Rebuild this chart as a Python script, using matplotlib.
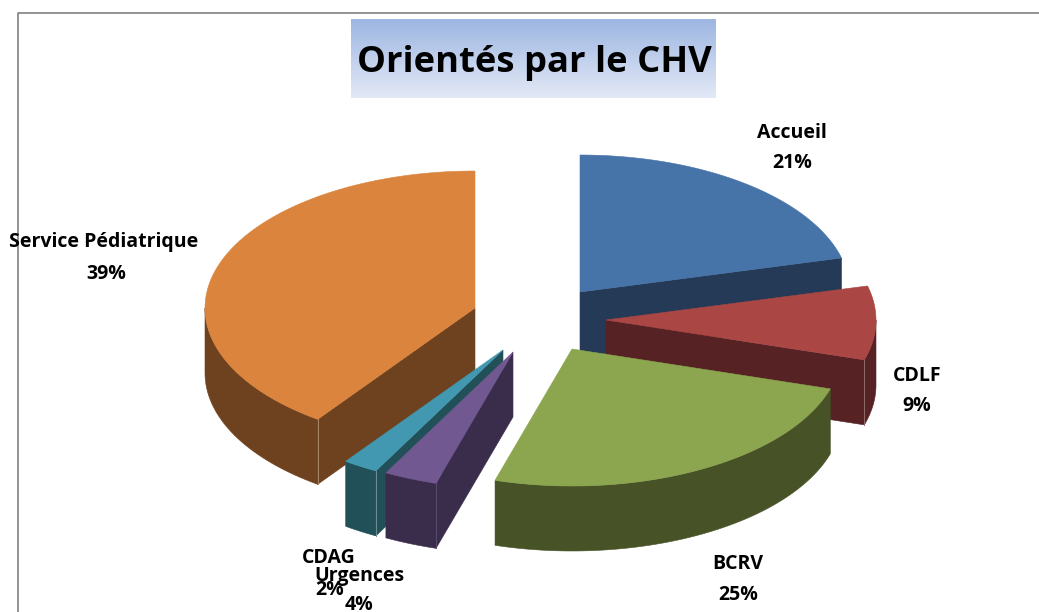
import numpy as np
import matplotlib
matplotlib.use("Agg")
import matplotlib.pyplot as plt
from matplotlib.colors import LinearSegmentedColormap
from matplotlib.patches import Polygon

# Data
categories = ["Accueil", "CDLF", "BCRV", "Urgences", "CDAG", "Service Pédiatrique"]
percent_labels = ["21%", "9%", "25%", "4%", "2%", "39%"]
# slice sizes as they appear in the tilted 3-D view
shares = [21.0, 8.7, 24.9, 3.2, 2.1, 40.1]
title_text = "Orientés par le CHV"

# Style
top_colors = ["#4673A8", "#AA4644", "#8BA64F", "#725891", "#4198B0", "#DB843D"]
side_colors = ["#243A57", "#562223", "#475227", "#3A2D4C", "#225058", "#6F421F"]
edge_colors = ["#243A57", "#8F6A6A", "#475227", "#5A4D6C", "#6F8F96", "#A58768"]
centers = [(580, 292), (606, 320), (572, 349), (513, 352), (503, 350), (475, 308)]
name_pos = [(792, 133), (917, 376), (738, 564), (359, 576), (329, 558), (104, 242)]
pct_pos = [(792, 163), (917, 406), (738, 595), (359, 605), (330, 590), (106, 274)]
draw_order = [0, 5, 1, 2, 4, 3]
RX, RY, DEPTH = 270, 137, 65
FONT = "Open Sans"

fig = plt.figure(figsize=(10.39, 6.12), dpi=100, facecolor="white")
ax = fig.add_axes([0, 0, 1, 1])
ax.set_xlim(0, 1039)
ax.set_ylim(612, 0)
ax.axis("off")

# Chart-area border (top and left only are in frame)
ax.plot([18, 18, 1039], [612, 13, 13], color="#808080", lw=1.2, zorder=1)

# Title box with vertical gradient
cmap = LinearSegmentedColormap.from_list("t", ["#9DB6E2", "#E3E9F6"])
ax.imshow(np.linspace(0, 1, 128).reshape(-1, 1), cmap=cmap, aspect="auto",
          extent=(351, 716, 98, 19), zorder=2)
ax.set_xlim(0, 1039)
ax.set_ylim(612, 0)
ax.text(534.5, 63, title_text, ha="center", va="center", fontsize=26.2,
        fontweight="bold", family=FONT, color="black", zorder=3)


def rim(center, deg):
    t = np.radians(deg)
    return np.column_stack([center[0] + RX * np.sin(t), center[1] - RY * np.cos(t)])


fractions = np.array(shares) / sum(shares) * 360
ends = np.cumsum(fractions)
starts = ends - fractions

for z, i in enumerate(draw_order):
    c, a0, a1 = centers[i], starts[i], ends[i]
    zo = 5 + z
    down = np.array([0, DEPTH])
    # outer wall: only the near half of the rim can be seen
    lo, hi = max(a0, 90), min(a1, 270)
    if hi > lo:
        arc = rim(c, np.linspace(lo, hi, 80))
        ax.add_patch(Polygon(np.vstack([arc, (arc + down)[::-1]]), fc=side_colors[i],
                             ec=side_colors[i], lw=0.4, zorder=zo))
    # the cut face turned toward the viewer
    corner = None
    if a1 < 180:
        corner = rim(c, np.array([a1]))[0]
    elif a0 > 180:
        corner = rim(c, np.array([a0]))[0]
    if corner is not None:
        apex = np.array(c, float)
        ax.add_patch(Polygon([apex, corner, corner + down, apex + down], fc=side_colors[i],
                             ec=side_colors[i], lw=0.4, zorder=zo))
        if i != 0:
            ax.plot([corner[0]] * 2, [corner[1], corner[1] + DEPTH], color=edge_colors[i],
                    lw=0.7, zorder=zo + 0.5)
    # top face
    arc = rim(c, np.linspace(a0, a1, 120))
    ax.add_patch(Polygon(np.vstack([[c], arc]), fc=top_colors[i], ec=top_colors[i],
                         lw=0.4, zorder=zo + 0.6))

# Data labels
for name, pct, np_, pp in zip(categories, percent_labels, name_pos, pct_pos):
    ax.text(*np_, name, ha="center", va="center", fontsize=14, fontweight="bold",
            family=FONT, color="black", zorder=20)
    ax.text(*pp, pct, ha="center", va="center", fontsize=14, fontweight="bold",
            family=FONT, color="black", zorder=20)

fig.savefig("out.png", dpi=100)
